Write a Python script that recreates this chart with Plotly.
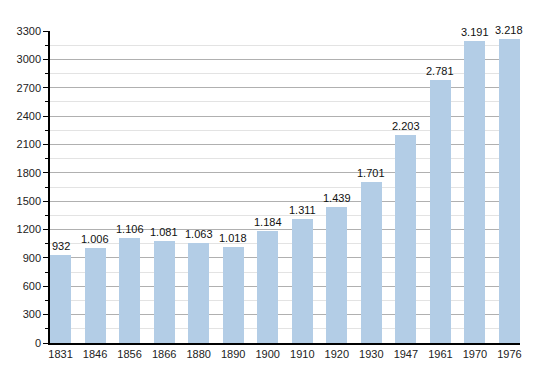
import plotly.graph_objects as go

years = ["1831", "1846", "1856", "1866", "1880", "1890", "1900", "1910", "1920", "1930", "1947", "1961", "1970", "1976"]
population = [932, 1006, 1106, 1081, 1063, 1018, 1184, 1311, 1439, 1701, 2203, 2781, 3191, 3218]
y_ticks = list(range(0, 3301, 300))


def fmt(v):
    return f"{v:,}".replace(",", ".")


labels = [fmt(v) for v in population]
xs = list(range(len(years)))

fig = go.Figure()
fig.add_trace(go.Bar(
    x=xs,
    y=population,
    width=0.61,
    marker=dict(color="#b3cde6", line=dict(width=0)),
    hoverinfo="skip",
))

for x, v, lab in zip(xs, population, labels):
    fig.add_annotation(
        x=x, y=v, text=lab, showarrow=False,
        xref="x", yref="y", yanchor="bottom", yshift=1,
        font=dict(color="#111111", size=11, family="Liberation Sans, Arial, sans-serif"),
    )

# page has a default 8px body margin, so the figure is sized/offset to compensate
fig.update_layout(
    width=542, height=365,
    margin=dict(l=42, r=30, t=23, b=30, autoexpand=False),
    paper_bgcolor="white",
    plot_bgcolor="white",
    showlegend=False,
    bargap=0,
    font=dict(family="Liberation Sans, Arial, sans-serif", size=11, color="#222222"),
)

fig.update_xaxes(
    range=[-0.305, len(years) - 1 + 0.305],
    tickmode="array",
    tickvals=xs,
    ticktext=years,
    showgrid=False,
    showline=True,
    linecolor="black",
    linewidth=1.5,
    ticks="",
    zeroline=False,
    automargin=False,
    tickfont=dict(size=11, color="#222222"),
)

fig.update_yaxes(
    range=[0, 3300],
    tickmode="array",
    tickvals=y_ticks,
    showgrid=True,
    gridcolor="#b0b0b0",
    gridwidth=1,
    showline=True,
    linecolor="black",
    linewidth=1.5,
    ticks="outside",
    ticklen=5,
    tickcolor="black",
    zeroline=False,
    automargin=False,
    tickfont=dict(size=11, color="#222222"),
    minor=dict(dtick=150, tick0=0, showgrid=True, gridcolor="#e3e3e3", ticks="outside", ticklen=3, tickcolor="black"),
)

fig.write_html("out.html")
